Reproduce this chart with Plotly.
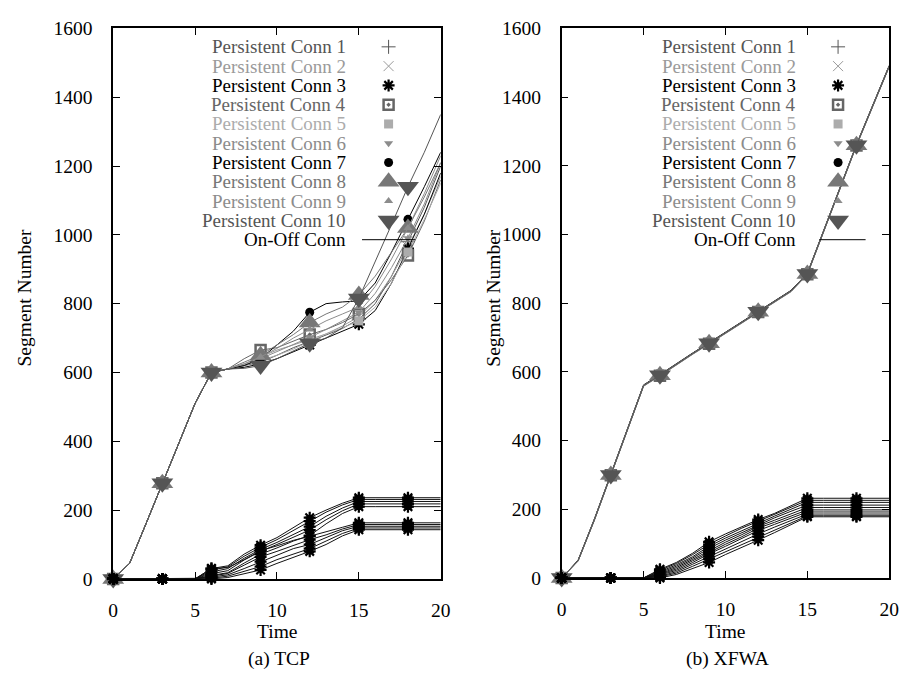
import plotly.graph_objects as go

W, H = 912, 681

# Sample times (s); markers are drawn every 3 s
time = list(range(21))
mark_every = 3

series_names = [f"Persistent Conn {i}" for i in range(1, 11)]
onoff_name = "On-Off Conn"

# ---- (a) TCP: persistent connections, segment number at t = 0..20 ----
tcp_persistent = [
    [0, 45, 160, 278, 395, 510, 600, 610, 618, 630, 650, 672, 690, 708, 728, 755, 800, 880, 980, 1080, 1200],
    [0, 45, 160, 278, 395, 510, 600, 610, 625, 645, 665, 680, 695, 712, 735, 762, 810, 880, 965, 1060, 1170],
    [0, 45, 160, 278, 395, 510, 600, 610, 615, 625, 640, 660, 680, 700, 720, 740, 780, 860, 960, 1060, 1180],
    [0, 45, 160, 278, 395, 510, 600, 610, 640, 665, 672, 690, 710, 725, 745, 770, 810, 870, 940, 1040, 1160],
    [0, 45, 160, 278, 395, 510, 600, 610, 620, 635, 650, 668, 690, 712, 730, 750, 790, 860, 950, 1045, 1150],
    [0, 45, 160, 278, 395, 510, 600, 610, 622, 640, 660, 680, 702, 725, 750, 775, 830, 905, 990, 1090, 1210],
    [0, 45, 160, 278, 395, 510, 600, 610, 620, 640, 680, 720, 775, 800, 805, 808, 860, 950, 1045, 1140, 1240],
    [0, 45, 160, 278, 395, 510, 600, 610, 630, 650, 680, 710, 745, 770, 790, 825, 880, 950, 1020, 1110, 1210],
    [0, 45, 160, 278, 395, 510, 600, 610, 625, 645, 670, 700, 725, 750, 770, 790, 850, 930, 1020, 1120, 1230],
    [0, 45, 160, 278, 395, 510, 600, 610, 612, 620, 640, 662, 685, 700, 730, 815, 920, 1030, 1140, 1240, 1350],
]

# ---- (a) TCP: on-off connections ----
tcp_onoff = [
    [0, 0, 0, 0, 0, 0, 30, 38, 72, 98, 120, 148, 178, 200, 220, 236, 236, 236, 236, 236, 236],
    [0, 0, 0, 0, 0, 0, 25, 35, 66, 92, 114, 140, 168, 194, 215, 231, 231, 231, 231, 231, 231],
    [0, 0, 0, 0, 0, 0, 20, 30, 60, 86, 106, 130, 152, 182, 206, 225, 225, 225, 225, 225, 225],
    [0, 0, 0, 0, 0, 0, 15, 24, 55, 80, 100, 122, 142, 172, 198, 218, 218, 218, 218, 218, 218],
    [0, 0, 0, 0, 0, 0, 10, 18, 46, 72, 90, 110, 126, 160, 190, 210, 210, 210, 210, 210, 210],
    [0, 0, 0, 0, 0, 0, 30, 33, 56, 82, 96, 112, 124, 136, 150, 163, 163, 163, 163, 163, 163],
    [0, 0, 0, 0, 0, 0, 8, 16, 40, 64, 80, 98, 114, 128, 145, 158, 158, 158, 158, 158, 158],
    [0, 0, 0, 0, 0, 0, 5, 12, 30, 50, 70, 88, 100, 120, 140, 153, 153, 153, 153, 153, 153],
    [0, 0, 0, 0, 0, 0, 2, 8, 22, 36, 56, 72, 88, 110, 132, 148, 148, 148, 148, 148, 148],
    [0, 0, 0, 0, 0, 0, 0, 4, 14, 26, 45, 62, 80, 100, 125, 143, 143, 143, 143, 143, 143],
]

# ---- (b) XFWA: persistent connections ----
xfwa_persistent = [
    [0, 50, 170, 300, 430, 560, 590, 622, 653, 683, 713, 744, 775, 805, 835, 885, 1010, 1135, 1260, 1375, 1490],
    [0, 49, 168, 298, 428, 558, 588, 620, 651, 681, 711, 742, 773, 803, 833, 883, 1008, 1133, 1258, 1373, 1488],
    [0, 51, 172, 302, 432, 562, 592, 624, 655, 685, 715, 746, 777, 807, 837, 887, 1012, 1137, 1262, 1377, 1492],
    [0, 50, 169, 299, 429, 559, 589, 621, 652, 682, 712, 743, 774, 804, 834, 884, 1009, 1134, 1259, 1374, 1489],
    [0, 50, 171, 301, 431, 561, 591, 623, 654, 684, 714, 745, 776, 806, 836, 886, 1011, 1136, 1261, 1376, 1491],
    [0, 49, 169, 299, 429, 559, 589, 621, 652, 682, 712, 743, 774, 804, 834, 884, 1009, 1134, 1259, 1374, 1489],
    [0, 51, 171, 301, 431, 561, 591, 623, 654, 684, 714, 745, 776, 806, 836, 886, 1011, 1136, 1261, 1376, 1491],
    [0, 50, 170, 300, 430, 560, 590, 622, 653, 683, 713, 744, 775, 805, 835, 885, 1010, 1135, 1260, 1375, 1490],
    [0, 50, 170, 300, 430, 560, 590, 622, 653, 683, 713, 744, 775, 805, 835, 885, 1010, 1135, 1260, 1375, 1490],
    [0, 50, 170, 300, 430, 560, 590, 622, 653, 683, 713, 744, 775, 805, 835, 885, 1010, 1135, 1260, 1375, 1490],
]

# ---- (b) XFWA: on-off connections ----
xfwa_onoff = [
    [0, 0, 0, 0, 0, 0, 25, 45, 72, 105, 128, 150, 170, 188, 210, 232, 232, 232, 232, 232, 232],
    [0, 0, 0, 0, 0, 0, 22, 42, 68, 98, 122, 145, 165, 185, 206, 226, 226, 226, 226, 226, 226],
    [0, 0, 0, 0, 0, 0, 18, 38, 62, 92, 116, 138, 160, 180, 200, 220, 220, 220, 220, 220, 220],
    [0, 0, 0, 0, 0, 0, 15, 34, 58, 86, 110, 132, 155, 175, 194, 212, 212, 212, 212, 212, 212],
    [0, 0, 0, 0, 0, 0, 12, 30, 54, 80, 104, 126, 150, 168, 186, 205, 205, 205, 205, 205, 205],
    [0, 0, 0, 0, 0, 0, 10, 26, 50, 75, 98, 120, 145, 162, 180, 198, 198, 198, 198, 198, 198],
    [0, 0, 0, 0, 0, 0, 8, 22, 45, 70, 92, 114, 138, 156, 174, 192, 192, 192, 192, 192, 192],
    [0, 0, 0, 0, 0, 0, 5, 18, 40, 62, 85, 106, 128, 148, 168, 186, 186, 186, 186, 186, 186],
    [0, 0, 0, 0, 0, 0, 3, 14, 34, 55, 78, 98, 120, 140, 160, 181, 181, 181, 181, 181, 181],
    [0, 0, 0, 0, 0, 0, 0, 10, 28, 45, 68, 88, 110, 132, 155, 178, 178, 178, 178, 178, 178],
]

x_ticks = [0, 5, 10, 15, 20]
y_ticks = [0, 200, 400, 600, 800, 1000, 1200, 1400, 1600]
panel_titles = ["(a) TCP", "(b) XFWA"]

# Per-series styling (gnuplot-like point types in grey shades)
colors = ["#555555", "#9a9a9a", "#000000", "#666666", "#acacac",
          "#8c8c8c", "#000000", "#777777", "#8c8c8c", "#555555"]
markers = [
    dict(symbol="cross-thin-open", size=10, color="#555555", line=dict(color="#555555", width=1)),
    dict(symbol="x-thin-open", size=10, color="#9a9a9a", line=dict(color="#9a9a9a", width=1)),
    dict(symbol="asterisk-open", size=10, color="#000000", line=dict(color="#000000", width=2.2)),
    dict(symbol="square-open-dot", size=10, color="#666666", line=dict(color="#666666", width=2.5)),
    dict(symbol="square", size=9, color="#acacac", line=dict(width=0)),
    dict(symbol="triangle-down", size=8, color="#8c8c8c", line=dict(width=0)),
    dict(symbol="circle", size=9, color="#000000", line=dict(width=0)),
    dict(symbol="triangle-up", size=19, color="#777777", line=dict(width=0)),
    dict(symbol="triangle-up", size=8, color="#8c8c8c", line=dict(width=0)),
    dict(symbol="triangle-down", size=19, color="#555555", line=dict(width=0)),
]
onoff_marker = dict(symbol="asterisk-open", size=10, color="#000000",
                    line=dict(color="#000000", width=2.2))

FONT = "Liberation Serif, Times New Roman, serif"
FS = 19.5      # ticks, axis titles, captions
FS_KEY = 19    # key entries

fig = go.Figure()


def px(xp):
    return xp / W


def py(yp):
    return 1 - yp / H


def add_panel(persistent, onoff, xa, ya):
    for vals, col, mk in zip(persistent, colors, markers):
        fig.add_trace(go.Scatter(x=time, y=vals, mode="lines", xaxis=xa, yaxis=ya,
                                 line=dict(color=col, width=1), showlegend=False,
                                 hoverinfo="skip"))
        fig.add_trace(go.Scatter(x=time[::mark_every], y=vals[::mark_every], mode="markers",
                                 xaxis=xa, yaxis=ya, marker=mk, showlegend=False,
                                 cliponaxis=False))
    for vals in onoff:
        fig.add_trace(go.Scatter(x=time, y=vals, mode="lines", xaxis=xa, yaxis=ya,
                                 line=dict(color="#111111", width=1), showlegend=False,
                                 hoverinfo="skip"))
        fig.add_trace(go.Scatter(x=time[::mark_every], y=vals[::mark_every], mode="markers",
                                 xaxis=xa, yaxis=ya, marker=onoff_marker, showlegend=False,
                                 cliponaxis=False))


add_panel(tcp_persistent, tcp_onoff, "x", "y")
add_panel(xfwa_persistent, xfwa_onoff, "x2", "y2")

# Plot-area pixel boxes (left, right, top, bottom)
panels = [(110, 443, 19, 587), (566, 899, 19, 586)]

axis_common = dict(
    showline=True, linecolor="black", linewidth=1.5, mirror="allticks",
    ticks="inside", ticklen=7, tickwidth=1.2, tickcolor="black",
    showgrid=False, zeroline=False, fixedrange=True,
    tickfont=dict(family=FONT, size=FS, color="black"),
)

layout_axes = {}
for i, (l, r, t, b) in enumerate(panels):
    sx = "" if i == 0 else str(i + 1)
    layout_axes["xaxis" + sx] = dict(axis_common, domain=[px(l), px(r)], range=[0, 20],
                                     tickvals=x_ticks, anchor="y" + sx, ticklabelstandoff=13)
    layout_axes["yaxis" + sx] = dict(axis_common, domain=[py(b), py(t)], range=[0, 1600],
                                     tickvals=y_ticks, anchor="x" + sx, ticklabelstandoff=15)

# Full-figure overlay axes used for the hand-built legend keys
layout_axes["xaxis3"] = dict(domain=[0, 1], range=[0, 1], visible=False, fixedrange=True, anchor="y3")
layout_axes["yaxis3"] = dict(domain=[0, 1], range=[0, 1], visible=False, fixedrange=True, anchor="x3")

annotations = []
shapes = []
legend_cfg = [(349, 390, 363, 417), (806, 847, 828, 875)]  # text right edge, key x, line x0, x1
row0, row_step = 38, 19.9
for (text_r, key_x, lx0, lx1) in legend_cfg:
    for k, (name, col, mk) in enumerate(zip(series_names, colors, markers)):
        yy = row0 + row_step * k
        annotations.append(dict(text=name, x=px(text_r), y=py(yy), xref="paper", yref="paper",
                                xanchor="right", yanchor="middle", showarrow=False,
                                font=dict(family=FONT, size=FS_KEY, color=col)))
        fig.add_trace(go.Scatter(x=[px(key_x)], y=[py(yy)], mode="markers", xaxis="x3",
                                 yaxis="y3", marker=mk, showlegend=False, hoverinfo="skip"))
    yy = row0 + row_step * 10
    annotations.append(dict(text=onoff_name, x=px(text_r), y=py(yy), xref="paper", yref="paper",
                            xanchor="right", yanchor="middle", showarrow=False,
                            font=dict(family=FONT, size=FS_KEY, color="black")))
    shapes.append(dict(type="line", xref="paper", yref="paper", x0=px(lx0), x1=px(lx1),
                       y0=py(yy), y1=py(yy), line=dict(color="black", width=1)))

# Axis titles and panel captions
for (l, r, t, b), ylab_x, title in zip(panels, [20, 497], panel_titles):
    cx = (l + r) / 2
    annotations.append(dict(text="Time", x=px(cx), y=py(641), xref="paper", yref="paper",
                            xanchor="center", yanchor="middle", showarrow=False,
                            font=dict(family=FONT, size=FS, color="black")))
    annotations.append(dict(text=title, x=px(cx + 2), y=py(670), xref="paper", yref="paper",
                            xanchor="center", yanchor="middle", showarrow=False,
                            font=dict(family=FONT, size=FS, color="black")))
    annotations.append(dict(text="Segment Number", x=px(ylab_x), y=py(297), xref="paper",
                            yref="paper", xanchor="center", yanchor="middle", textangle=-90,
                            showarrow=False, font=dict(family=FONT, size=FS, color="black")))

fig.update_layout(
    width=W, height=H, margin=dict(l=0, r=0, t=0, b=0),
    paper_bgcolor="white", plot_bgcolor="rgba(0,0,0,0)",
    showlegend=False, annotations=annotations, shapes=shapes,
    **layout_axes,
)

fig.write_html("out.html")
